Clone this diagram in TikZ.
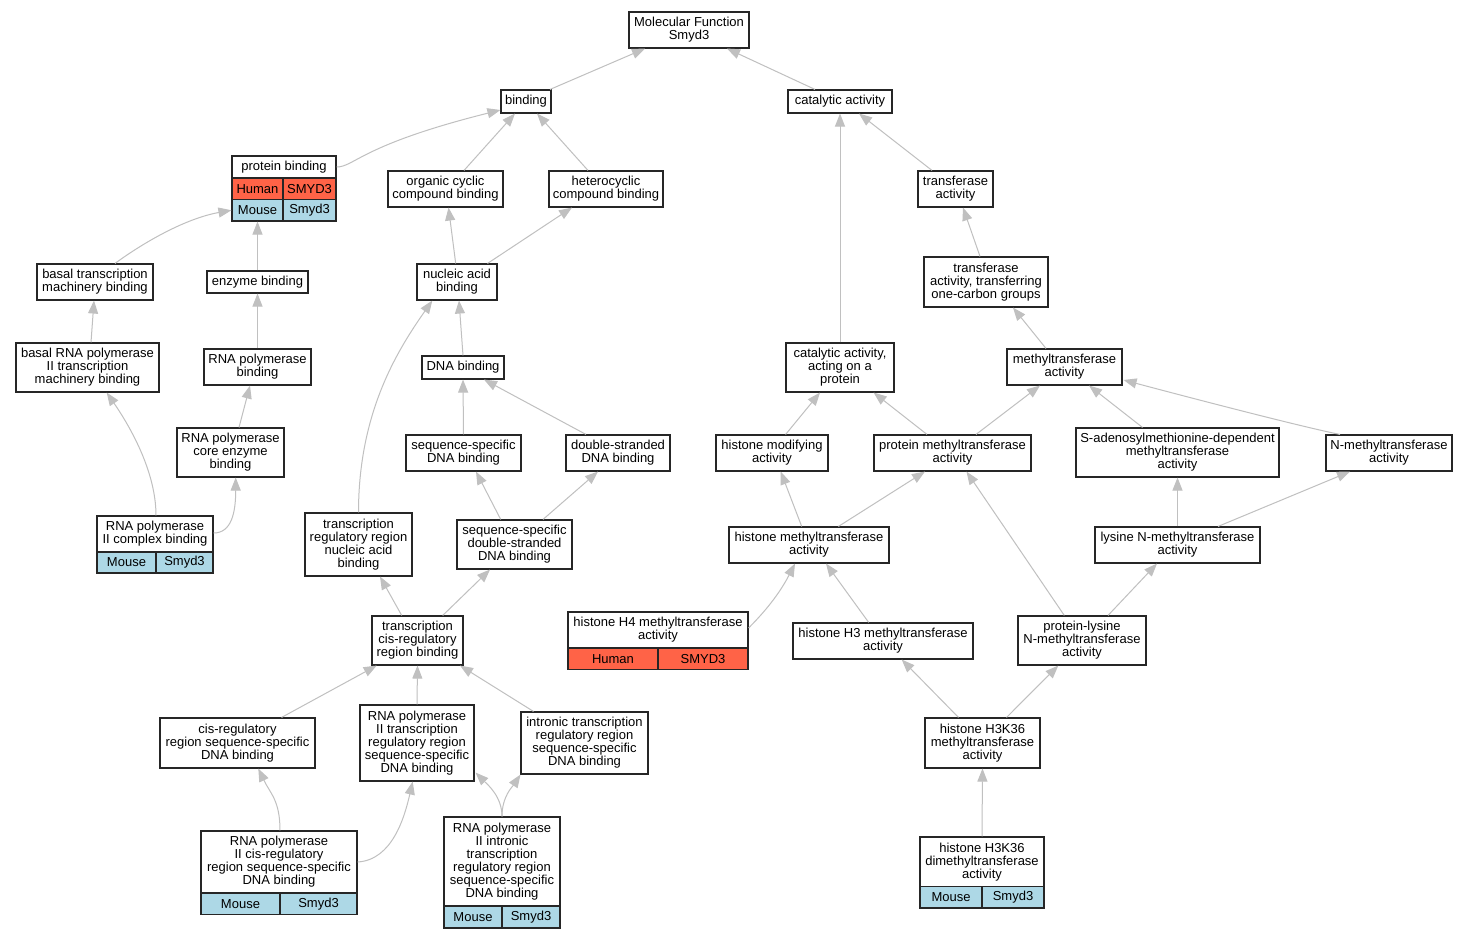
\documentclass[tikz,border=0pt]{standalone}
\usepackage{fontspec}
\setmainfont{Liberation Sans}
\usepackage{tikz}
\usetikzlibrary{arrows.meta,calc}
\definecolor{hred}{HTML}{FF6347}
\definecolor{hblue}{HTML}{ADD8E6}
\definecolor{egray}{HTML}{C0C0C0}
\tikzset{box/.style={rectangle, draw=black!85, line width=1.1pt, fill=white, inner sep=0pt, align=center, font=\fontsize{13}{13}\selectfont},
  sz/.style 2 args={minimum width=#1pt, minimum height=#2pt},
  human/.style={box, fill=hred}, mouse/.style={box, fill=hblue},
  arr/.style={draw=egray, line width=1pt, -{Triangle[length=13pt, width=10pt]}}}
\begin{document}
\begin{tikzpicture}[x=1pt, y=-1pt]
  \fill[white] (0,0) rectangle (1467,939);
  \useasboundingbox (0,0) rectangle (1467,939);
  % terms
  \node[box, sz={120}{36}] (mf) at (689,30) {Molecular Function\\Smyd3};
  \node[box, sz={50}{23}] (bind) at (526,101.5) {binding};
  \node[box, sz={104}{23}] (cat) at (840,101.5) {catalytic activity};
  \node[box, sz={104}{22}] (pb) at (284,167) {protein binding};
  \node[human, sz={51}{21.5}] (pbh1) at (257.5,188.75) {Human};
  \node[human, sz={53}{21.5}] (pbh2) at (309.5,188.75) {SMYD3};
  \node[mouse, sz={51}{21.5}] (pbm1) at (257.5,210.25) {Mouse};
  \node[mouse, sz={53}{21.5}] (pbm2) at (309.5,210.25) {Smyd3};
  \node[box, sz={115}{36}] (ocb) at (445.5,189) {organic cyclic\\compound binding};
  \node[box, sz={114}{36}] (hcb) at (606,189) {heterocyclic\\compound binding};
  \node[box, sz={75}{36}] (tra) at (955.5,189) {transferase\\activity};
  \node[box, sz={116}{36}] (btmb) at (95,282) {basal transcription\\machinery binding};
  \node[box, sz={101}{22}] (enz) at (257.5,282) {enzyme binding};
  \node[box, sz={80}{36}] (nab) at (457,282) {nucleic acid\\binding};
  \node[box, sz={124}{50}] (toc) at (986,282) {transferase\\activity, transferring\\one-carbon groups};
  \node[box, sz={143}{49}] (brna) at (87.5,367.5) {basal RNA polymerase\\II transcription\\machinery binding};
  \node[box, sz={107}{36}] (rpb) at (257.5,367) {RNA polymerase\\binding};
  \node[box, sz={82}{23}] (dna) at (463,367.5) {DNA binding};
  \node[box, sz={108}{49}] (cap) at (840,367.5) {catalytic activity,\\acting on a\\protein};
  \node[box, sz={115}{36}] (mta) at (1064.5,367) {methyltransferase\\activity};
  \node[box, sz={107}{49}] (rpc) at (230.5,452.5) {RNA polymerase\\core enzyme\\binding};
  \node[box, sz={115}{36}] (ssd) at (463.5,453) {sequence-specific\\DNA binding};
  \node[box, sz={104}{36}] (dsd) at (618,453) {double-stranded\\DNA binding};
  \node[box, sz={112}{36}] (hma) at (772,453) {histone modifying\\activity};
  \node[box, sz={157}{36}] (pma) at (952.5,453) {protein methyltransferase\\activity};
  \node[box, sz={203}{49}] (sam) at (1177.5,452.5) {S-adenosylmethionine-dependent\\methyltransferase\\activity};
  \node[box, sz={126}{36}] (nma) at (1389,453) {N-methyltransferase\\activity};
  \node[box, sz={116}{36}] (rp2c) at (155,534) {RNA polymerase\\II complex binding};
  \node[mouse, sz={59}{21}] (rp2cm1) at (126.5,562.5) {Mouse};
  \node[mouse, sz={57}{21}] (rp2cm2) at (184.5,562.5) {Smyd3};
  \node[box, sz={107}{63}] (trnab) at (358.5,544.5) {transcription\\regulatory region\\nucleic acid\\binding};
  \node[box, sz={115}{49}] (ssds) at (514.5,544.5) {sequence-specific\\double-stranded\\DNA binding};
  \node[box, sz={160}{36}] (hmt) at (809,545) {histone methyltransferase\\activity};
  \node[box, sz={165}{36}] (lys) at (1177.5,545) {lysine N-methyltransferase\\activity};
  \node[box, sz={91}{49}] (tcrb) at (417.5,640.5) {transcription\\cis-regulatory\\region binding};
  \node[box, sz={180}{36}] (h4) at (658,630) {histone H4 methyltransferase\\activity};
  \node[human, sz={90}{21.5}] (h4h1) at (613,658.75) {Human};
  \node[human, sz={90}{21.5}] (h4h2) at (703,658.75) {SMYD3};
  \node[box, sz={180}{36}] (h3) at (883,641) {histone H3 methyltransferase\\activity};
  \node[box, sz={128}{49}] (pkl) at (1082,640.5) {protein-lysine\\N-methyltransferase\\activity};
  \node[box, sz={155}{50}] (crs) at (237.5,743) {cis-regulatory\\region sequence-specific\\DNA binding};
  \node[box, sz={114}{76}] (r2tr) at (417,743) {RNA polymerase\\II transcription\\regulatory region\\sequence-specific\\DNA binding};
  \node[box, sz={127}{62}] (itr) at (584.5,743) {intronic transcription\\regulatory region\\sequence-specific\\DNA binding};
  \node[box, sz={115}{50}] (h36) at (982.5,743) {histone H3K36\\methyltransferase\\activity};
  \node[box, sz={156}{62}] (r2cr) at (279,862) {RNA polymerase\\II cis-regulatory\\region sequence-specific\\DNA binding};
  \node[mouse, sz={79}{21.5}] (r2crm1) at (240.5,903.75) {Mouse};
  \node[mouse, sz={77}{21.5}] (r2crm2) at (318.5,903.75) {Smyd3};
  \node[box, sz={116}{89}] (r2in) at (502,861.5) {RNA polymerase\\II intronic\\transcription\\regulatory region\\sequence-specific\\DNA binding};
  \node[mouse, sz={58}{22}] (r2inm1) at (473,917) {Mouse};
  \node[mouse, sz={58}{22}] (r2inm2) at (531,917) {Smyd3};
  \node[box, sz={124}{49.5}] (h36d) at (982,861.75) {histone H3K36\\dimethyltransferase\\activity};
  \node[mouse, sz={62}{21.5}] (h36dm1) at (951,897.25) {Mouse};
  \node[mouse, sz={62}{21.5}] (h36dm2) at (1013,897.25) {Smyd3};
  % is_a links
  \draw[arr] ([xshift=24pt]bind.north) -- ([xshift=-44pt]mf.south);
  \draw[arr] ([xshift=-25pt]cat.north) -- ([xshift=38pt]mf.south);
  \draw[arr] (pb.east) .. controls +(18,0) and +(-140,35) .. ($(bind.west)+(0,8.5)$);
  \draw[arr] ([xshift=18.5pt]ocb.north) -- ([xshift=-11pt]bind.south);
  \draw[arr] ([xshift=-18pt]hcb.north) -- ([xshift=11pt]bind.south);
  \draw[arr] ([xshift=-23.5pt]tra.north) -- ([xshift=19pt]cat.south);
  \draw[arr] ([xshift=-6pt]toc.north) -- ([xshift=7.5pt]tra.south);
  \draw[arr] (cap.north) -- (cat.south);
  \draw[arr] ([xshift=-18.5pt]mta.north) -- ([xshift=27pt]toc.south);
  \draw[arr] ([xshift=20pt]btmb.north) .. controls +(30,-22) and +(-45,8) .. (pbm1.west);
  \draw[arr] (enz.north) -- (pbm1.south);
  \draw[arr] ([xshift=3.5pt]brna.north) -- ([xshift=-1pt]btmb.south);
  \draw[arr] (rpb.north) -- (enz.south);
  \draw[arr] (dna.north) -- ([xshift=2pt]nab.south);
  \draw[arr] ([xshift=-1.3pt]nab.north) -- ([xshift=3pt]ocb.south);
  \draw[arr] ([xshift=30.5pt]nab.north) -- ([xshift=-34pt]hcb.south);
  \draw[arr] ([xshift=8.5pt]rpc.north) -- ([xshift=-7.5pt]rpb.south);
  \draw[arr] (ssd.north) -- (dna.south);
  \draw[arr] ([xshift=-32pt]dsd.north) -- ([xshift=21pt]dna.south);
  \draw[arr] ([xshift=13.6pt]hma.north) -- ([xshift=-20pt]cap.south);
  \draw[arr] ([xshift=-25.5pt]pma.north) -- ([xshift=33.6pt]cap.south);
  \draw[arr] ([xshift=23.5pt]pma.north) -- ([xshift=-24.5pt]mta.south);
  \draw[arr] ([xshift=-35pt]sam.north) -- ([xshift=24.5pt]mta.south);
  \draw[arr] ([xshift=-49pt]nma.north) .. controls +(-40,-8) and +(60,16) .. ($(mta.east)+(1,13)$);
  \draw[arr] ([xshift=-7.3pt]hmt.north) -- ([xshift=8.7pt]hma.south);
  \draw[arr] ([xshift=29.4pt]hmt.north) -- ([xshift=-27.5pt]pma.south);
  \draw[arr] (lys.north) -- (sam.south);
  \draw[arr] ([xshift=40.5pt]lys.north) -- ([xshift=-39pt]nma.south);
  \draw[arr] ([xshift=1pt]rp2c.north) .. controls +(0,-45) and +(22,32) .. ([xshift=19.2pt]brna.south);
  \draw[arr] ($(rp2c.east)+(0,-1)$) .. controls +(18,0) and +(0,35) .. ([xshift=5.2pt]rpc.south);
  \draw[arr] (trnab.north) .. controls +(0,-100) and +(-35,50) .. ([xshift=-24.7pt]nab.south);
  \draw[arr] ([xshift=-13.8pt]ssds.north) -- ([xshift=12.5pt]ssd.south);
  \draw[arr] ([xshift=28.5pt]ssds.north) -- ([xshift=-20pt]dsd.south);
  \draw[arr] ([xshift=-15.8pt]tcrb.north) -- ([xshift=21.5pt]trnab.south);
  \draw[arr] ([xshift=25.2pt]tcrb.north) -- ([xshift=-24.5pt]ssds.south);
  \draw[arr] ($(h4.east)+(0,-2)$) .. controls +(10,-10) and +(-18,35) .. ([xshift=-14pt]hmt.south);
  \draw[arr] ([xshift=-14.3pt]h3.north) -- ([xshift=17pt]hmt.south);
  \draw[arr] ([xshift=-17.7pt]pkl.north) -- ([xshift=14pt]pma.south);
  \draw[arr] ([xshift=26pt]pkl.north) -- ([xshift=-20.5pt]lys.south);
  \draw[arr] ([xshift=44pt]crs.north) -- ([xshift=-40.8pt]tcrb.south);
  \draw[arr] (r2tr.north) -- (tcrb.south);
  \draw[arr] ([xshift=-51pt]itr.north) -- ([xshift=42.5pt]tcrb.south);
  \draw[arr] ([xshift=-24pt]h36.north) -- ([xshift=18.7pt]h3.south);
  \draw[arr] ([xshift=24pt]h36.north) -- ([xshift=-23.7pt]pkl.south);
  \draw[arr] (h36d.north) -- (h36.south);
  \draw[arr] ([xshift=1pt]r2cr.north) .. controls +(0,-30) and +(12,25) .. ([xshift=20.8pt]crs.south);
  \draw[arr] (r2cr.east) .. controls +(35,-2) and +(-8,35) .. ([xshift=-4.3pt]r2tr.south);
  \draw[arr] (r2in.north) .. controls +(0,-20) and +(12,12) .. ($(r2tr.south east)+(1,-9)$);
  \draw[arr] (r2in.north) .. controls +(0,-20) and +(-8,12) .. ([xshift=-64pt]itr.south);
\end{tikzpicture}
\end{document}
